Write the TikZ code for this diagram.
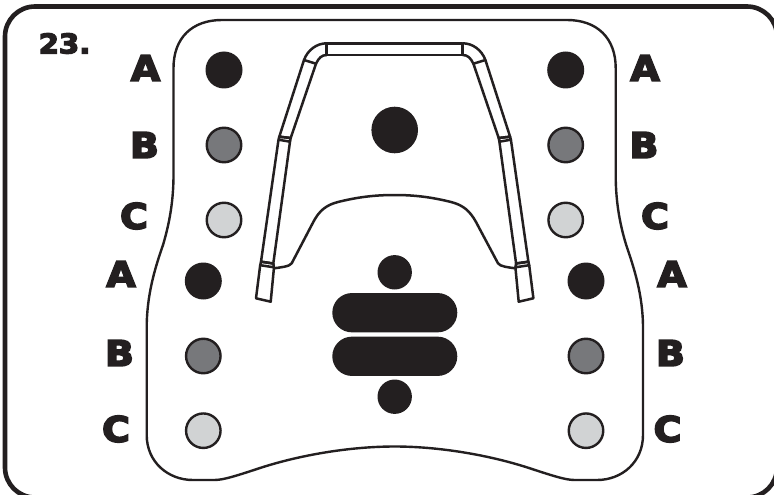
\documentclass[tikz,border=0pt]{standalone}
\usepackage{fontspec}
\setmainfont{DejaVu Sans Bold}[FakeBold=5,FakeStretch=1.08]
\usetikzlibrary{shapes.misc}
\definecolor{ink}{HTML}{231F20}
\definecolor{midgray}{HTML}{77787B}
\definecolor{lightgray}{HTML}{D1D3D4}
\tikzset{
  frameline/.style={draw=ink,line width=4.6pt},
  boardline/.style={draw=ink,line width=2.4pt},
  barline/.style={draw=ink,line width=2.5pt,line join=round},
  dotA/.style={circle,fill=ink,draw=none,minimum size=37pt,inner sep=0pt},
  dotB/.style={circle,fill=midgray,draw=ink,line width=2.4pt,minimum size=34.5pt,inner sep=0pt},
  dotC/.style={circle,fill=lightgray,draw=ink,line width=2.4pt,minimum size=34.5pt,inner sep=0pt},
  blob/.style={circle,fill=ink,inner sep=0pt},
  pill/.style={rounded rectangle,fill=ink,minimum width=125pt,minimum height=39.3pt,inner sep=0pt},
  letter/.style={text=ink,font=\fontsize{35}{35}\selectfont,inner sep=0pt},
}
\begin{document}
\begin{tikzpicture}[x=1pt,y=-1pt]
\useasboundingbox (0,0) rectangle (774,495);
\fill[white] (0,0) rectangle (774,495);
\draw[frameline,rounded corners=30pt] (5,6.5) rectangle (777,497.5);
% board
\draw[boardline] (173.5,68)
  .. controls (173.5,38) and (192,20) .. (222,20) -- (567,20)
  .. controls (597,20) and (615.7,38) .. (615.7,68) -- (615.7,175)
  .. controls (615.7,205) and (621,228) .. (626.2,245)
  .. controls (634,268) and (643,295) .. (643,328) -- (643,435)
  .. controls (643,462) and (622,480) .. (597,480) -- (576,480)
  .. controls (568,480) and (562,479) .. (529,468)
  .. controls (489,455) and (439,446.5) .. (394.7,446.5)
  .. controls (350,446.5) and (300,455) .. (260,468)
  .. controls (227,479) and (221,480) .. (213,480) -- (193,480)
  .. controls (168,480) and (146.7,462) .. (146.7,435) -- (146.7,328)
  .. controls (146.7,295) and (155,268) .. (163,245)
  .. controls (168,228) and (173.5,205) .. (173.5,175) -- cycle;
\node[dotA] (a1) at (224,70) {};
\node[dotB] (b1) at (224,145) {};
\node[dotC] (c1) at (224,220) {};
\node[dotA] (a2) at (203.3,281) {};
\node[dotB] (b2) at (203.3,356) {};
\node[dotC] (c2) at (203.3,430.7) {};
\node[dotA] (a3) at (565.7,70) {};
\node[dotB] (b3) at (565.7,145) {};
\node[dotC] (c3) at (565.7,220) {};
\node[dotA] (a4) at (586,281) {};
\node[dotB] (b4) at (586,356) {};
\node[dotC] (c4) at (586,430.7) {};
\node[blob,minimum size=46.6pt] (top) at (394.7,130) {};
\node[blob,minimum size=34.4pt] (upper) at (394.7,272.3) {};
\node[blob,minimum size=34.4pt] (lower) at (394.7,396.7) {};
\node[pill] (p1) at (394.8,312.7) {};
\node[pill] (p2) at (394.8,356.3) {};
% letters
\node[letter] (la1) at (145.5,68) {A};
\node[letter] (lb1) at (144.5,145) {B};
\node[letter] (lc1) at (134,216) {C};
\node[letter] (la2) at (121,274) {A};
\node[letter] (lb2) at (119.5,353) {B};
\node[letter] (lc2) at (116,429) {C};
\node[letter] (la3) at (645,68) {A};
\node[letter] (lb3) at (644,145) {B};
\node[letter] (lc3) at (655,216) {C};
\node[letter] (la4) at (672,274) {A};
\node[letter] (lb4) at (670.5,353) {B};
\node[letter] (lc4) at (667.5,429) {C};
\node[text=ink,font=\fontsize{27}{27}\selectfont,inner sep=0pt] (num) at (64.5,43.5) {23.};
% headrest band
\draw[barline] (326.7,43.3) -- (462.7,43.3) -- (462.7,55) -- (326.7,55) -- cycle;
\foreach \s in {1,-1}{
  \begin{scope}[shift={(394.7,0)},xscale=\s]
    \draw[barline] (-68,43.3) .. controls (-78,43.3) and (-87,50) .. (-90.7,60) -- (-78.7,63.7) .. controls (-76,58) and (-73,55) .. (-68,55);
    \draw[barline] (-90.7,60) -- (-115.4,136.7) -- (-104,138) -- (-78.7,63.7);
    \draw[barline] (-115.4,136.7) -- (-104,138) -- (-104.7,141.7) -- (-116.2,139.7) -- cycle;
    \draw[barline] (-116.2,139.7) -- (-133.7,261.7) -- (-121.4,263.5) -- (-104.7,141.7);
    \draw[barline] (-133.7,261.7) -- (-121.4,263.5) -- (-120.7,267.3) -- (-134.5,265.2) -- cycle;
    \draw[barline] (-134.5,265.2) -- (-138.7,298.3) -- (-124,301.7) -- (-120.7,267.3);
  \end{scope}
}
% inner curve
\draw[barline] (274,268.3) .. controls (280,267.5) and (290,266.5) .. (291.7,263.3) -- (313.3,222)
  .. controls (319,211) and (326,205) .. (338,202)
  .. controls (358,197) and (375,195) .. (394.7,195)
  .. controls (414,195) and (431,197) .. (451,202)
  .. controls (463,205) and (470,211) .. (476,222) -- (498,263.3)
  .. controls (499.7,266.5) and (509,267.5) .. (515.4,268.3);
\end{tikzpicture}
\end{document}
